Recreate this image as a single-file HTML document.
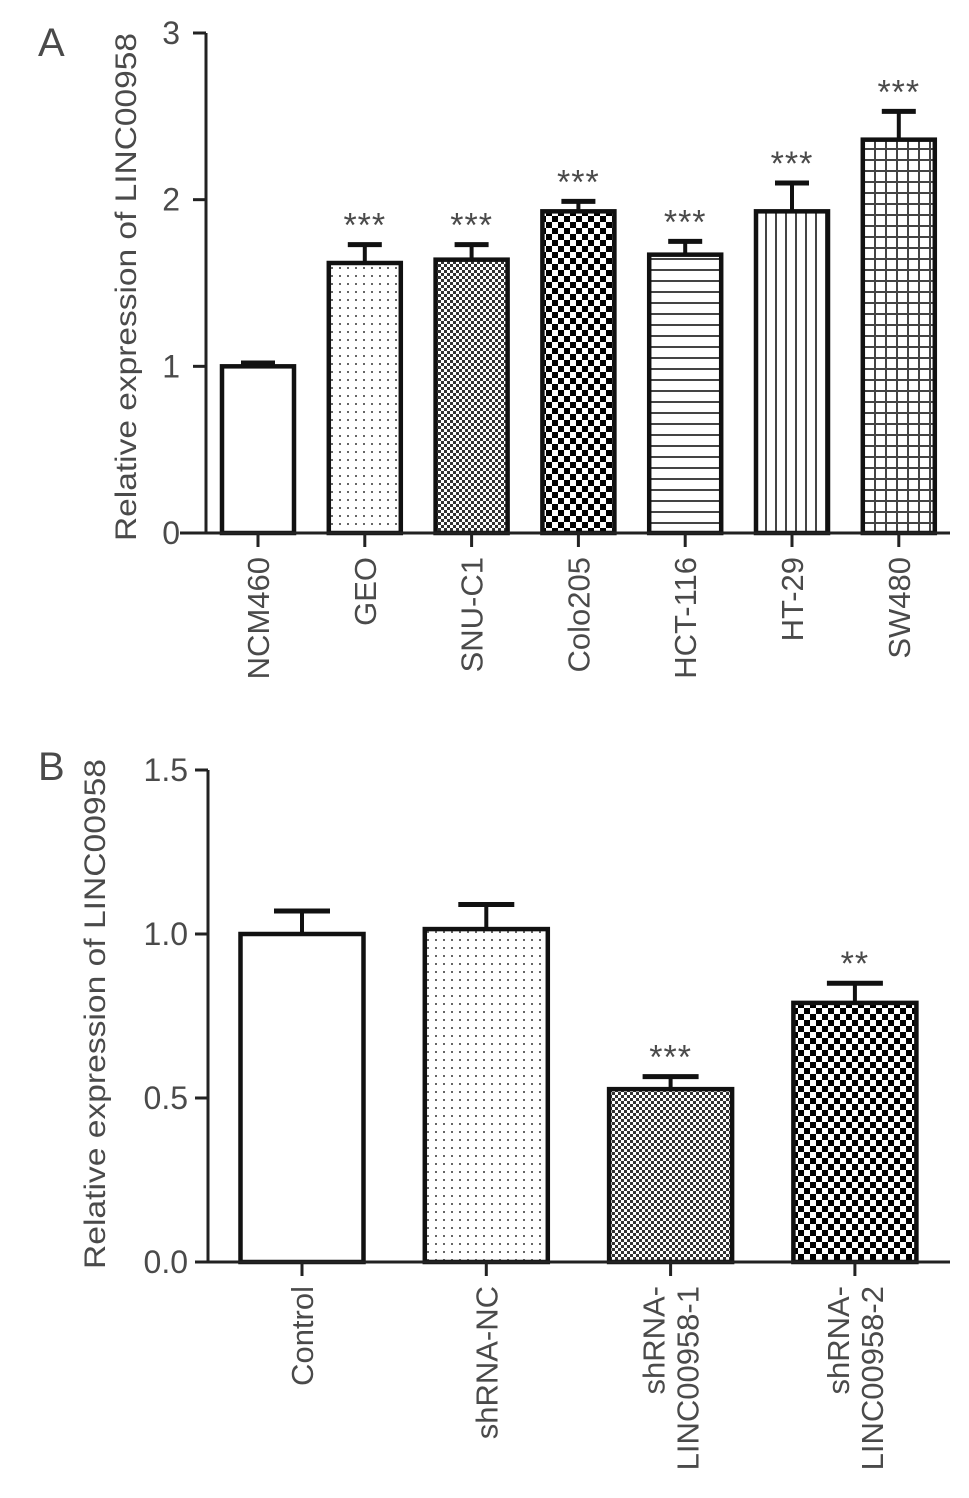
<!DOCTYPE html>
<html><head><meta charset="utf-8"><style>
html,body{margin:0;padding:0;background:#fff;}
svg{display:block;font-family:"Liberation Sans",Arial,sans-serif;}
text{fill:#4a4a4a;}
</style></head><body>
<svg id="chart" width="969" height="1498" viewBox="0 0 969 1498">
<defs>
<pattern id="p-dots" width="8" height="8" patternUnits="userSpaceOnUse"><rect width="8" height="8" fill="#fff"/><rect x="3" y="3" width="2" height="2" fill="#666"/></pattern>
<pattern id="p-fine" width="6" height="6" patternUnits="userSpaceOnUse"><rect width="6" height="6" fill="#fff"/><rect width="3" height="3" fill="#333"/><rect x="3" y="3" width="3" height="3" fill="#333"/></pattern>
<pattern id="p-coarse" width="12" height="12" patternUnits="userSpaceOnUse"><rect width="12" height="12" fill="#fff"/><rect width="6" height="6" fill="#000"/><rect x="6" y="6" width="6" height="6" fill="#000"/></pattern>
<pattern id="p-hlines" width="10" height="11" patternUnits="userSpaceOnUse"><rect width="10" height="11" fill="#fff"/><rect y="5" width="10" height="2" fill="#444"/></pattern>
<pattern id="p-vlines" width="10" height="10" patternUnits="userSpaceOnUse"><rect width="10" height="10" fill="#fff"/><rect x="5" width="2" height="10" fill="#444"/></pattern>
<pattern id="p-grid" width="11" height="11" patternUnits="userSpaceOnUse"><rect width="11" height="11" fill="#fff"/><rect x="5" width="2" height="11" fill="#444"/><rect y="5" width="11" height="2" fill="#444"/></pattern>
</defs>
<text x="38" y="56" font-size="40">A</text>
<text x="38" y="780" font-size="40">B</text>
<g id="chartA"></g>
<g id="chartB"></g>
</svg>
<script>
const catsA = ["NCM460","GEO","SNU-C1","Colo205","HCT-116","HT-29","SW480"];
const valsA = [1.0,1.62,1.64,1.93,1.67,1.93,2.36];
const errsA = [0.02,0.11,0.09,0.06,0.08,0.17,0.17];
const sigA = ["","***","***","***","***","***","***"];
const ticksA = [0,1,2,3];
const tickLabelsA = ["0","1","2","3"];

const catsB = [["Control"],["shRNA-NC"],["shRNA-","LINC00958-1"],["shRNA-","LINC00958-2"]];
const valsB = [1.0,1.015,0.527,0.79];
const errsB = [0.07,0.075,0.038,0.06];
const sigB = ["","","***","**"];
const ticksB = [0,0.5,1.0,1.5];
const tickLabelsB = ["0.0","0.5","1.0","1.5"];

const NS="http://www.w3.org/2000/svg";
function mk(tag,attrs,parent){const e=document.createElementNS(NS,tag);for(const k in attrs)e.setAttribute(k,attrs[k]);parent.appendChild(e);return e;}

function draw(g,cfg){
  const y=v=>cfg.y0-(v-cfg.ymin)/(cfg.ymax-cfg.ymin)*(cfg.y0-cfg.y1);
  const x=i=>cfg.xStart+i*cfg.step;
  const ya=mk("line",{x1:cfg.ax,y1:y(cfg.ymax),x2:cfg.ax,y2:cfg.y0,stroke:"#222","stroke-width":3},g);
  
  
  cfg.ticks.forEach((t,i)=>{
    const tl=mk("line",{x1:cfg.ax-13,y1:y(t),x2:cfg.ax,y2:y(t),stroke:"#222","stroke-width":3},g);
    
    
    const tx=mk("text",{x:cfg.ax-cfg.labOff,y:y(t)+11,"font-size":32,"text-anchor":"end"},g);
    tx.textContent=cfg.tickLabels[i];
    
    
  });
  const yt=mk("text",{transform:`translate(${cfg.titleX},${cfg.titleY}) rotate(-90)`,"font-size":30,"text-anchor":"middle",textLength:cfg.titleLen,lengthAdjust:"spacingAndGlyphs"},g);
  yt.textContent="Relative expression of LINC00958";
  
  
  cfg.vals.forEach((v,i)=>{
    const cx=x(i), top=y(v), et=y(v+cfg.errs[i]);
    const eb=mk("line",{x1:cx,y1:et,x2:cx,y2:top,stroke:"#111","stroke-width":4},g);
    
    
    const cap=mk("line",{x1:cx-cfg.cap,y1:et,x2:cx+cfg.cap,y2:et,stroke:"#111","stroke-width":5},g);
    
    
    const r=mk("rect",{x:cx-cfg.bw/2,y:top,width:cfg.bw,height:cfg.y0-top,fill:cfg.fills[i],stroke:"#111","stroke-width":4.5},g);
    
    
    if(cfg.sig[i]){
      const s=mk("text",{x:cx,y:et-8,"font-size":34,"text-anchor":"middle","letter-spacing":"1"},g);
      s.textContent=cfg.sig[i];
      
      
    }
    const tk=mk("line",{x1:cx,y1:cfg.y0,x2:cx,y2:cfg.y0+14,stroke:"#222","stroke-width":3},g);
    
    
    const lines=Array.isArray(cfg.cats[i])?cfg.cats[i]:[cfg.cats[i]];
    lines.forEach((ln,j)=>{
      const off=(j-(lines.length-1)/2)*34+11;
      const t=mk("text",{transform:`translate(${cx+off},${cfg.y0+24}) rotate(-90)`,"font-size":31,"text-anchor":"end"},g);
      t.textContent=ln;
      
      
    });
  });
  const xa=mk("line",{x1:cfg.xaStart,y1:cfg.y0,x2:950,y2:cfg.y0,stroke:"#222","stroke-width":3},g);
  
  
}
draw(document.getElementById("chartA"),{cats:catsA,vals:valsA,errs:errsA,sig:sigA,ticks:ticksA,tickLabels:tickLabelsA,
  ymin:0,ymax:3,y0:533,y1:33,ax:206,labOff:26,xaStart:180,xStart:258,step:106.8,bw:72,cap:17,titleX:136,titleY:287,titleLen:508,
  fills:["#fff","url(#p-dots)","url(#p-fine)","url(#p-coarse)","url(#p-hlines)","url(#p-vlines)","url(#p-grid)"]});
draw(document.getElementById("chartB"),{cats:catsB,vals:valsB,errs:errsB,sig:sigB,ticks:ticksB,tickLabels:tickLabelsB,
  ymin:0,ymax:1.5,y0:1262,y1:770,ax:208,labOff:20,xaStart:198,xStart:302,step:184.3,bw:123,cap:28,titleX:105,titleY:1014,titleLen:510,
  fills:["#fff","url(#p-dots)","url(#p-fine)","url(#p-coarse)"]});
</script>
</body></html>
